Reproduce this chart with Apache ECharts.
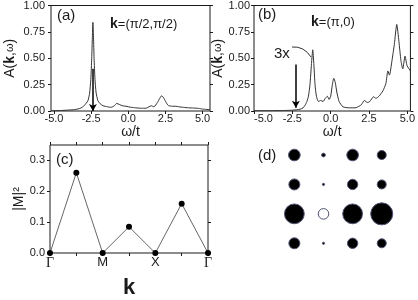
<!DOCTYPE html>
<html><head><meta charset="utf-8">
<script src="https://cdn.jsdelivr.net/npm/echarts@6/dist/echarts.min.js"></script>
<style>html,body{margin:0;padding:0;background:#fff}#c{width:418px;height:300px}</style>
</head><body><div id="c"></div>
<script>
// Panel (a): k=(pi/2,pi/2)
var omegaA = [-5.2,-4.5,-3.7,-3.3,-3.05,-2.85,-2.71,-2.6,-2.52,-2.46,-2.42,-2.38,-2.34,-2.3,-2.24,-2.17,-2.05,-1.9,-1.7,-1.4,-1.16,-0.93,-0.78,-0.6,-0.4,-0.16,0.2,0.5,0.9,1.18,1.4,1.55,1.72,1.96,2.12,2.25,2.4,2.55,2.7,2.96,3.2,3.4,3.7,4.07,4.4,4.73,5.0,5.5];
var specA  = [0.003,0.005,0.012,0.022,0.04,0.07,0.1,0.17,0.3,0.5,0.68,0.84,0.7,0.5,0.3,0.18,0.1,0.07,0.05,0.04,0.035,0.05,0.072,0.062,0.05,0.045,0.035,0.03,0.026,0.026,0.04,0.05,0.04,0.08,0.12,0.145,0.12,0.08,0.052,0.045,0.045,0.04,0.035,0.03,0.028,0.025,0.018,0.012];
var arrowA = [-2.38, 0.40, 0.0];
// Panel (b): k=(pi,0)
var omegaB = [-5.0,-4,-3,-2.45,-2.0,-1.8,-1.69,-1.55,-1.45,-1.35,-1.25,-1.17,-1.1,-1.02,-0.93,-0.8,-0.65,-0.5,-0.35,-0.22,-0.1,0.0,0.1,0.2,0.3,0.4,0.55,0.8,1.2,1.6,1.85,2.0,2.2,2.4,2.55,2.8,2.95,3.15,3.4,3.6,3.73,3.83,4.0,4.15,4.31,4.45,4.58,4.7,4.85,4.98,5.2];
var specB  = [0.002,0.003,0.005,0.008,0.017,0.03,0.05,0.09,0.14,0.25,0.45,0.58,0.45,0.25,0.14,0.09,0.1,0.09,0.12,0.14,0.11,0.14,0.24,0.31,0.27,0.18,0.09,0.04,0.03,0.03,0.045,0.06,0.1,0.08,0.09,0.135,0.12,0.14,0.19,0.26,0.38,0.34,0.48,0.63,0.82,0.66,0.48,0.40,0.52,0.43,0.38];
var arrowB = [-2.27, 0.44, 0.03];
var omegaTicks = [-5, -2.5, 0, 2.5, 5];
// Panel (c): |M|^2 along Gamma-M-X-Gamma
var kPath = [0, 1, 2, 3, 4, 5, 6];
var M2 = [0, 0.26, 0, 0.085, 0, 0.16, 0];
var kLabels = {0: 'Γ', 2: 'M', 4: 'X', 6: 'Γ'};
var m2Ticks = [0, 0.1, 0.2, 0.3];
// Panel (d): amplitudes on 4x4 lattice (negative = open circle)
var dAmp = [
  [0.53, 0.17, 0.53, 0.41],
  [0.50, 0.10, 0.47, 0.41],
  [0.90, -0.48, 0.90, 1.00],
  [0.50, 0.10, 0.47, 0.41]
];

var FONT = 'Liberation Sans, Arial, sans-serif';
var INK = '#1a1a1a';
function zip(a, b) { return a.map(function (v, i) { return [v, b[i]]; }); }
var tickStyle = {show: true, inside: false, length: 3, lineStyle: {color: INK, width: 1}};
var lblStyle = {color: INK, fontFamily: FONT, fontSize: 11};
var gridBase = {show: true, borderColor: INK, borderWidth: 1, backgroundColor: 'transparent'};
var noLine = {show: false, onZero: false};

var dData = [];
dAmp.forEach(function (row, r) { row.forEach(function (v, c) { dData.push([c, r, v]); }); });

function specX(idx, min, max, alignLeft) {
  var lbl = Object.assign({}, lblStyle, {customValues: omegaTicks, margin: 2,
      formatter: function (v) { return v.toFixed(1); }});
  if (alignLeft) lbl.alignMinLabel = 'left';
  return {gridIndex: idx, type: 'value', min: min, max: max,
    axisLine: noLine, splitLine: {show: false},
    axisTick: Object.assign({}, tickStyle, {customValues: omegaTicks}),
    axisLabel: lbl,
    name: 'ω/t', nameLocation: 'middle', nameGap: 11,
    nameTextStyle: {color: INK, fontFamily: FONT, fontSize: 14}};
}
function specY(idx, gap, margin) {
  return {gridIndex: idx, type: 'value', min: 0, max: 1, interval: 0.25,
    axisLine: noLine, splitLine: {show: false}, axisTick: tickStyle,
    axisLabel: Object.assign({}, lblStyle, {margin: margin, formatter: function (v) { return v.toFixed(2); }}),
    name: '{n|A(}{b|k}{n|,}{w|ω}{n|)}', nameLocation: 'middle', nameGap: gap,
    nameTextStyle: {color: INK, fontFamily: FONT, fontSize: 14,
      rich: {n: {fontFamily: FONT, fontSize: 14, color: INK},
             b: {fontFamily: FONT, fontSize: 14, fontWeight: 'bold', color: INK},
             w: {fontFamily: FONT, fontSize: 11, color: INK}}}};
}
function rightTicks(idx, min, max, interval, cv) {
  var t = Object.assign({}, tickStyle);
  if (cv) t.customValues = cv;
  var o = {gridIndex: idx, type: 'value', position: 'right', min: min, max: max,
    axisLine: noLine, splitLine: {show: false}, axisTick: t, axisLabel: {show: false}};
  if (interval) o.interval = interval;
  return o;
}

var option = {
  animation: false,
  backgroundColor: '#fff',
  grid: [
    Object.assign({left: 51, top: 4, width: 159, height: 107}, gridBase),
    Object.assign({left: 254, top: 4, width: 157, height: 107}, gridBase),
    Object.assign({left: 50, top: 145, width: 158, height: 108}, gridBase),
    {left: 279.8, top: 140.3, width: 116.5, height: 117.7, show: false}
  ],
  xAxis: [
    specX(0, -5.2, 5.5, false),
    specX(1, -5.0, 5.2, true),
    {gridIndex: 2, type: 'value', min: 0, max: 6, interval: 1,
      axisLine: noLine, splitLine: {show: false}, axisTick: tickStyle,
      axisLabel: {color: INK, fontFamily: FONT, fontSize: 13, margin: 3,
        formatter: function (v) { return kLabels[v] === 'Γ' ? '{g|Γ}' : (kLabels[v] || ''); },
        rich: {g: {fontFamily: 'Liberation Serif, Times New Roman, serif', fontSize: 14, color: INK}}},
      name: 'k', nameLocation: 'middle', nameGap: 24,
      nameTextStyle: {color: INK, fontFamily: FONT, fontSize: 22, fontWeight: 'bold'}},
    {gridIndex: 2, type: 'value', position: 'top', min: 0, max: 6, interval: 1,
      axisLine: noLine, splitLine: {show: false}, axisTick: tickStyle, axisLabel: {show: false}},
    {gridIndex: 3, type: 'value', min: -0.5, max: 3.5, show: false}
  ],
  yAxis: [
    specY(0, 34, 6),
    rightTicks(0, 0, 1, 0.25),
    specY(1, 29, 4),
    rightTicks(1, 0, 1, 0.25),
    {gridIndex: 2, type: 'value', min: 0, max: 0.35,
      axisLine: noLine, splitLine: {show: false},
      axisTick: Object.assign({}, tickStyle, {customValues: m2Ticks}),
      axisLabel: Object.assign({}, lblStyle, {customValues: m2Ticks, margin: 5,
        formatter: function (v) { return v.toFixed(1); }}),
      name: '|M|²', nameLocation: 'middle', nameGap: 23,
      nameTextStyle: {color: INK, fontFamily: FONT, fontSize: 14}},
    rightTicks(2, 0, 0.35, null, m2Ticks),
    {gridIndex: 3, type: 'value', min: -0.5, max: 3.5, inverse: true, show: false}
  ],
  series: [
    {type: 'line', xAxisIndex: 0, yAxisIndex: 0, data: zip(omegaA, specA), showSymbol: false,
      smooth: 0.2, lineStyle: {color: '#333', width: 1}, silent: true,
      markLine: {silent: true, symbol: ['none', 'arrow'], symbolSize: [6, 7],
        lineStyle: {color: '#000', width: 1.5, type: 'solid'}, label: {show: false},
        data: [[{coord: [arrowA[0], arrowA[1]]}, {coord: [arrowA[0], arrowA[2]]}]]}},
    {type: 'line', xAxisIndex: 1, yAxisIndex: 2, data: zip(omegaB, specB), showSymbol: false,
      smooth: 0.2, lineStyle: {color: '#333', width: 1}, silent: true,
      markLine: {silent: true, symbol: ['none', 'arrow'], symbolSize: [6, 7],
        lineStyle: {color: '#000', width: 1.5, type: 'solid'}, label: {show: false},
        data: [[{coord: [arrowB[0], arrowB[1]]}, {coord: [arrowB[0], arrowB[2]]}]]}},
    {type: 'line', xAxisIndex: 2, yAxisIndex: 4, data: zip(kPath, M2),
      symbol: 'circle', symbolSize: 6, showAllSymbol: true,
      itemStyle: {color: '#000'}, lineStyle: {color: '#666', width: 1}},
    {type: 'scatter', xAxisIndex: 4, yAxisIndex: 6, data: dData,
      symbol: 'circle',
      symbolSize: function (d) { return Math.abs(d[2]) * 22; },
      itemStyle: {opacity: 1, color: function (p) { return p.data[2] < 0 ? '#fff' : '#000'; },
        borderColor: function (p) { return p.data[2] < 0 ? '#777' : '#000'; }, borderWidth: 1}}
  ],
  graphic: [
    {type: 'text', left: 57, top: 8, style: {text: '(a)', font: '15px ' + FONT, fill: INK}},
    {type: 'text', left: 110, top: 17, style: {text: '{b|k}{n|=(π/2,π/2)}',
      rich: {b: {font: 'bold 14px ' + FONT, fill: INK}, n: {font: '13px ' + FONT, fill: INK}}}},
    {type: 'text', left: 258, top: 7, style: {text: '(b)', font: '15px ' + FONT, fill: INK}},
    {type: 'text', left: 311, top: 15, style: {text: '{b|k}{n|=(π,0)}',
      rich: {b: {font: 'bold 14px ' + FONT, fill: INK}, n: {font: '13px ' + FONT, fill: INK}}}},
    {type: 'text', left: 274, top: 46, style: {text: '3x', font: '15px ' + FONT, fill: INK}},
    {type: 'bezierCurve', shape: {x1: 292, y1: 47, x2: 311, y2: 57, cpx1: 304, cpy1: 46},
      style: {stroke: '#333', lineWidth: 1, fill: null}},
    {type: 'text', left: 56, top: 152, style: {text: '(c)', font: '15px ' + FONT, fill: INK}},
    {type: 'text', left: 258, top: 148, style: {text: '(d)', font: '15px ' + FONT, fill: INK}}
  ]
};
var chart = echarts.init(document.getElementById('c'), null, {renderer: 'canvas'});
chart.setOption(option);
</script></body></html>
